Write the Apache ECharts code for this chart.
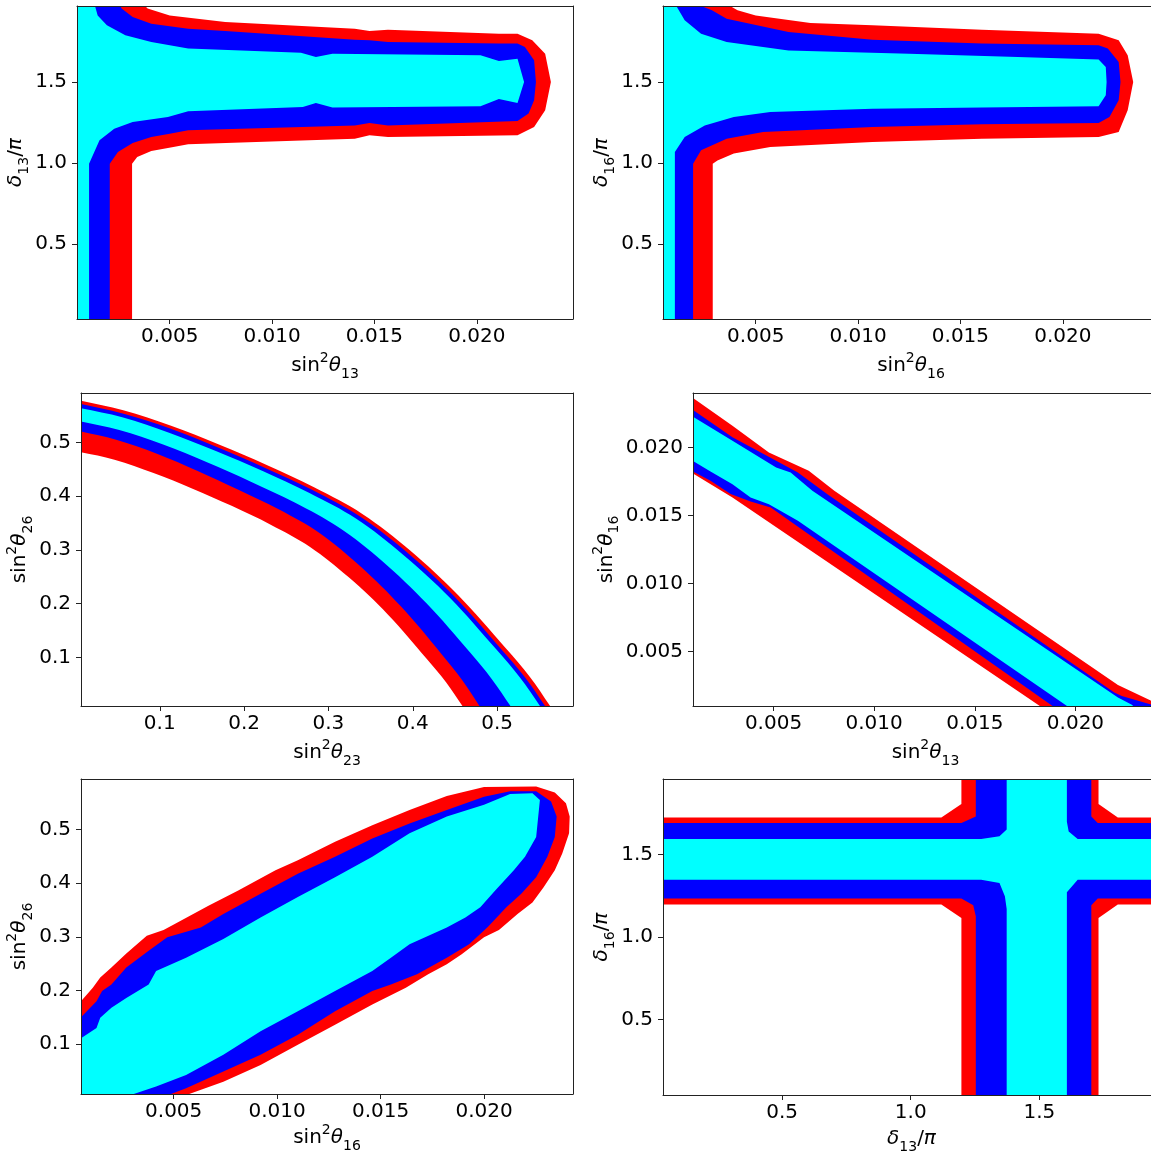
<!DOCTYPE html>
<html lang="en">
<head>
<meta charset="UTF-8">
<title>contours</title>
<style>
  * { margin: 0; padding: 0; }
  body { background: #fff; }
  #main { width: 1151px; height: 1151px; }
</style>
</head>
<body>
<div id="main"></div>
<script src="https://cdn.jsdelivr.net/npm/echarts@6/dist/echarts.min.js"></script>
<script>
// tick values
var smallTicks = [0.005, 0.010, 0.015, 0.020];
var mixTicks = [0.1, 0.2, 0.3, 0.4, 0.5];
var phaseTicks = [0.5, 1.0, 1.5];

// panel 1: sin^2 theta13 vs delta13/pi  (outline of each filled region)
var p1Red = [[0, 0], [0.00316, 0], [0.00316, 0.996], [0.00341, 1.037], [0.0041, 1.074], [0.00518, 1.099], [0.0059, 1.115], [0.01404, 1.150], [0.01476, 1.171], [0.01566, 1.160], [0.02199, 1.171], [0.0228, 1.222], [0.02334, 1.325], [0.02362, 1.5], [0.02334, 1.675], [0.02271, 1.757], [0.02199, 1.798], [0.02108, 1.798], [0.01566, 1.823], [0.01476, 1.815], [0.01404, 1.829], [0.00771, 1.870], [0.005, 1.911], [0.00392, 1.953], [0.00355, 2], [0, 2]];
var p1Blue = [[0, 0], [0.00207, 0], [0.00207, 0.996], [0.00247, 1.068], [0.00319, 1.123], [0.0041, 1.160], [0.005, 1.181], [0.0059, 1.202], [0.01404, 1.232], [0.01476, 1.247], [0.01566, 1.232], [0.02199, 1.259], [0.02253, 1.305], [0.0228, 1.387], [0.02289, 1.5], [0.0228, 1.634], [0.02235, 1.716], [0.02199, 1.737], [0.02108, 1.737], [0.01566, 1.747], [0.01476, 1.757], [0.01404, 1.761], [0.00771, 1.815], [0.0059, 1.829], [0.0041, 1.86], [0.00319, 1.901], [0.00265, 1.953], [0.00247, 2], [0, 2]];
var p1Cyan = [[0, 0], [0.00106, 0], [0.00106, 0.996], [0.00157, 1.140], [0.00229, 1.212], [0.00319, 1.253], [0.00491, 1.284], [0.0059, 1.319], [0.0115, 1.346], [0.01214, 1.370], [0.01295, 1.342], [0.02018, 1.350], [0.02108, 1.395], [0.02199, 1.370], [0.02231, 1.5], [0.02199, 1.644], [0.02108, 1.630], [0.02018, 1.665], [0.01295, 1.675], [0.01214, 1.654], [0.01141, 1.681], [0.0059, 1.706], [0.0041, 1.747], [0.00283, 1.788], [0.00193, 1.850], [0.00148, 1.911], [0.00135, 1.969], [0.00135, 2], [0, 2]];

// panel 2: sin^2 theta16 vs delta16/pi
var p2Red = [[0, 0], [0.0029, 0], [0.0029, 0.996], [0.00313, 1.016], [0.00393, 1.058], [0.00571, 1.099], [0.0107, 1.130], [0.01605, 1.150], [0.02175, 1.160], [0.02273, 1.191], [0.02317, 1.325], [0.02344, 1.5], [0.02317, 1.665], [0.02273, 1.757], [0.02175, 1.798], [0.01605, 1.823], [0.0107, 1.850], [0.00767, 1.864], [0.005, 1.911], [0.00411, 1.942], [0.00375, 1.969], [0.00375, 2], [0, 2]];
var p2Blue = [[0, 0], [0.00194, 0], [0.00194, 0.996], [0.00233, 1.078], [0.00358, 1.150], [0.00536, 1.191], [0.0107, 1.222], [0.01605, 1.239], [0.02175, 1.247], [0.02228, 1.284], [0.02273, 1.387], [0.02282, 1.5], [0.02273, 1.623], [0.0222, 1.706], [0.02175, 1.726], [0.01605, 1.737], [0.0107, 1.761], [0.0066, 1.809], [0.00358, 1.891], [0.00286, 1.942], [0.00233, 1.969], [0.00233, 2], [0, 2]];
var p2Cyan = [[0, 0], [0.00105, 0], [0.00105, 1.068], [0.00153, 1.160], [0.00251, 1.232], [0.00393, 1.284], [0.00571, 1.315], [0.0107, 1.335], [0.01605, 1.342], [0.02175, 1.350], [0.0221, 1.418], [0.02214, 1.5], [0.0221, 1.593], [0.02175, 1.638], [0.0178, 1.654], [0.01248, 1.675], [0.0066, 1.695], [0.00358, 1.747], [0.00233, 1.798], [0.00153, 1.881], [0.00112, 1.969], [0.00112, 2], [0, 2]];

// panel 3: sin^2 theta23 vs sin^2 theta26 (upper and lower edge of each band)
var p3RedTop = [[-0.05, 0.597], [0, 0.58], [0.0567, 0.560], [0.1134, 0.531], [0.1701, 0.496], [0.2268, 0.458], [0.2835, 0.416], [0.3402, 0.367], [0.3969, 0.299], [0.4536, 0.216], [0.5103, 0.117], [0.5387, 0.064], [0.567, 0], [0.597, -0.068]];
var p3BlueTop = [[-0.05, 0.591], [0, 0.574], [0.0561, 0.554], [0.1122, 0.526], [0.1683, 0.491], [0.2244, 0.453], [0.2805, 0.412], [0.3366, 0.363], [0.3927, 0.296], [0.4488, 0.214], [0.5049, 0.115], [0.533, 0.063], [0.561, 0], [0.591, -0.068]];
var p3CyanTop = [[-0.05, 0.583], [0, 0.566], [0.0555, 0.547], [0.111, 0.518], [0.1665, 0.484], [0.222, 0.447], [0.2775, 0.406], [0.333, 0.358], [0.3885, 0.291], [0.444, 0.211], [0.4995, 0.114], [0.5273, 0.062], [0.555, 0], [0.585, -0.068]];
var p3CyanBottom = [[-0.05, 0.558], [0, 0.541], [0.052, 0.523], [0.104, 0.496], [0.156, 0.463], [0.208, 0.427], [0.26, 0.388], [0.312, 0.342], [0.364, 0.279], [0.416, 0.201], [0.468, 0.109], [0.494, 0.059], [0.52, 0], [0.55, -0.068]];
var p3BlueBottom = [[-0.05, 0.540], [0, 0.5225], [0.0483, 0.505], [0.0966, 0.479], [0.1449, 0.447], [0.1932, 0.412], [0.2415, 0.375], [0.2898, 0.331], [0.3381, 0.269], [0.3864, 0.194], [0.4347, 0.105], [0.4589, 0.057], [0.483, 0], [0.512, -0.068]];
var p3RedBottom = [[-0.05, 0.5015], [0, 0.484], [0.0463, 0.468], [0.0926, 0.443], [0.1389, 0.414], [0.1852, 0.382], [0.2315, 0.347], [0.2778, 0.306], [0.3241, 0.249], [0.3704, 0.180], [0.4167, 0.097], [0.4399, 0.053], [0.463, 0], [0.493, -0.068]];

// panel 4: sin^2 theta13 vs sin^2 theta16
var p4RedTop = [[0.0009, 0.02373], [0.00296, 0.02159], [0.00477, 0.01963], [0.00675, 0.01828], [0.00802, 0.01681], [0.02211, 0.00255], [0.02371, 0.00142], [0.0257, 0]];
var p4BlueTop = [[0.0009, 0.02285], [0.00296, 0.02074], [0.00513, 0.01902], [0.00621, 0.01816], [0.00766, 0.01657], [0.02193, 0.00199], [0.0223, 0.00174], [0.02371, 0.00113], [0.0263, 0]];
var p4CyanTop = [[0.0009, 0.02235], [0.00296, 0.02049], [0.00513, 0.01853], [0.00585, 0.01816], [0.00693, 0.01681], [0.02211, 0.00162], [0.0228, 0.0011], [0.0232, 0.0005], [0.0236, 0]];
var p4CyanBottom = [[0.0009, 0.0191], [0.00187, 0.01824], [0.00296, 0.0173], [0.00386, 0.01632], [0.00477, 0.01583], [0.00549, 0.01522], [0.00621, 0.01461], [0.01958, 0.001], [0.0197, 0]];
var p4BlueBottom = [[0.0009, 0.01831], [0.00187, 0.01755], [0.00287, 0.01657], [0.00386, 0.01603], [0.00486, 0.01559], [0.01886, 0.001], [0.0190, 0]];
var p4RedBottom = [[0.0009, 0.01818], [0.00296, 0.01632], [0.01823, 0.001], [0.0183, 0]];

// panel 5: sin^2 theta16 vs sin^2 theta26
var p5Red = [[0, 0], [0, 0.183], [0.00052, 0.18], [0.00109, 0.205], [0.00145, 0.224], [0.00199, 0.2425], [0.00271, 0.269], [0.0037, 0.302], [0.00451, 0.3125], [0.00505, 0.324], [0.00668, 0.358], [0.00812, 0.386], [0.00992, 0.424], [0.011, 0.4425], [0.0128, 0.477], [0.0146, 0.508], [0.0164, 0.536], [0.0182, 0.5625], [0.02, 0.579], [0.02252, 0.58], [0.02342, 0.569], [0.02396, 0.549], [0.02414, 0.524], [0.02411, 0.493], [0.02378, 0.455], [0.02342, 0.424], [0.02288, 0.3925], [0.02234, 0.364], [0.02162, 0.3425], [0.02072, 0.3125], [0.02, 0.299], [0.01892, 0.2675], [0.0182, 0.249], [0.0173, 0.23], [0.01622, 0.205], [0.0146, 0.174], [0.0128, 0.136], [0.011, 0.099], [0.0092, 0.061], [0.0074, 0.03], [0.00595, 0.01], [0.0053, 0]];
var p5Blue = [[0, 0], [0, 0.153], [0.00052, 0.15], [0.00127, 0.18], [0.00154, 0.199], [0.00199, 0.211], [0.00271, 0.2425], [0.00379, 0.274], [0.00469, 0.299], [0.00631, 0.3175], [0.0074, 0.3425], [0.0092, 0.38], [0.011, 0.4175], [0.0128, 0.449], [0.0146, 0.483], [0.0164, 0.511], [0.0182, 0.536], [0.02, 0.561], [0.02126, 0.571], [0.02252, 0.571], [0.02324, 0.552], [0.02351, 0.524], [0.02342, 0.486], [0.02306, 0.449], [0.02252, 0.411], [0.0218, 0.38], [0.02108, 0.355], [0.02018, 0.318], [0.01928, 0.286], [0.0182, 0.261], [0.01676, 0.23], [0.0155, 0.211], [0.0146, 0.199], [0.0128, 0.161], [0.011, 0.1175], [0.0092, 0.08], [0.0074, 0.049], [0.0056, 0.0175], [0.00487, 0.007], [0.0046, 0]];
var p5Cyan = [[0, 0], [0, 0.113], [0.00052, 0.111], [0.00127, 0.13], [0.00145, 0.149], [0.00199, 0.1675], [0.00271, 0.186], [0.00379, 0.211], [0.00415, 0.236], [0.0056, 0.261], [0.0074, 0.296], [0.0092, 0.336], [0.011, 0.374], [0.0128, 0.411], [0.0146, 0.449], [0.0164, 0.493], [0.0182, 0.524], [0.02, 0.546], [0.02126, 0.566], [0.02234, 0.5675], [0.0227, 0.555], [0.02252, 0.486], [0.02198, 0.449], [0.02144, 0.424], [0.02054, 0.386], [0.01982, 0.355], [0.0191, 0.336], [0.0182, 0.3175], [0.0164, 0.286], [0.0155, 0.261], [0.0146, 0.236], [0.0137, 0.2175], [0.0128, 0.199], [0.011, 0.161], [0.0092, 0.124], [0.0074, 0.08], [0.0056, 0.0425], [0.00415, 0.021], [0.00307, 0.007], [0.0029, 0]];

// panel 6: delta13/pi vs delta16/pi
var p6Red = [[1.197, 2], [1.197, 1.807], [1.119, 1.726], [0, 1.726], [0, 1.197], [1.119, 1.197], [1.197, 1.116], [1.197, 0], [1.730, 0], [1.730, 1.116], [1.805, 1.197], [2, 1.197], [2, 1.726], [1.805, 1.726], [1.730, 1.807], [1.730, 2]];
var p6Blue = [[1.253, 2], [1.253, 1.732], [1.197, 1.692], [0, 1.692], [0, 1.233], [1.197, 1.233], [1.243, 1.193], [1.253, 1.126], [1.253, 0], [1.702, 0], [1.702, 1.193], [1.727, 1.233], [2, 1.233], [2, 1.692], [1.727, 1.692], [1.702, 1.732], [1.702, 2]];
var p6Cyan = [[1.373, 2], [1.373, 1.652], [1.345, 1.611], [1.274, 1.595], [0, 1.595], [0, 1.348], [1.274, 1.348], [1.345, 1.328], [1.366, 1.247], [1.373, 1.17], [1.373, 0], [1.607, 0], [1.607, 1.272], [1.649, 1.348], [2, 1.348], [2, 1.595], [1.649, 1.595], [1.614, 1.641], [1.607, 1.7], [1.607, 2]];

var colors = ['#ff0000', '#0000ff', '#00ffff'];
var font = 'DejaVu Sans';

function band(top, bottom) {
    return top.concat(bottom.slice().reverse());
}
function sinName(ij) {
    return '{n|sin}{sup|2}{i|θ}{sub|' + ij + '}';
}
function deltaName(ij) {
    return '{i|δ}{sub|' + ij + '}{n|/}{i|π}';
}

var rich = {
    n: { fontFamily: font, fontSize: 20, lineHeight: 30, color: '#000' },
    i: { fontFamily: font, fontSize: 20, lineHeight: 30, fontStyle: 'italic', color: '#000' },
    sup: { fontFamily: font, fontSize: 14, lineHeight: 22, verticalAlign: 'top', color: '#000' },
    sub: { fontFamily: font, fontSize: 14, lineHeight: 22, verticalAlign: 'bottom', color: '#000' }
};

var panels = [
    { box: [77, 6, 496, 313], smooth: 0,
      x: { min: 0.00047, max: 0.0247, ticks: smallTicks, dp: 3, name: sinName('13'), gap: 47 },
      y: { min: 0.037, max: 1.969, ticks: phaseTicks, dp: 1, name: deltaName('13'), gap: 58 },
      regions: [p1Red, p1Blue, p1Cyan] },
    { box: [663, 6, 496, 313], smooth: 0,
      x: { min: 0.00047, max: 0.0247, ticks: smallTicks, dp: 3, name: sinName('16'), gap: 47 },
      y: { min: 0.037, max: 1.969, ticks: phaseTicks, dp: 1, name: deltaName('16'), gap: 57 },
      regions: [p2Red, p2Blue, p2Cyan] },
    { box: [81, 393, 492, 313], smooth: 0.35,
      x: { min: 0.0066, max: 0.59, ticks: mixTicks, dp: 1, name: sinName('23'), gap: 47 },
      y: { min: 0.0095, max: 0.592, ticks: mixTicks, dp: 1, name: sinName('26'), gap: 61 },
      regions: [band(p3RedTop, p3RedBottom), band(p3BlueTop, p3BlueBottom), band(p3CyanTop, p3CyanBottom)] },
    { box: [693, 393, 465, 313], smooth: 0,
      x: { min: 0.001, max: 0.0241, ticks: smallTicks, dp: 3, name: sinName('13'), gap: 47 },
      y: { min: 0.001, max: 0.024, ticks: smallTicks, dp: 3, name: sinName('16'), gap: 80 },
      regions: [band(p4RedTop, p4RedBottom), band(p4BlueTop, p4BlueBottom), band(p4CyanTop, p4CyanBottom)] },
    { box: [81, 779, 492, 315], smooth: 0,
      x: { min: 0.00052, max: 0.0243, ticks: smallTicks, dp: 3, name: sinName('16'), gap: 44 },
      y: { min: 0.007, max: 0.594, ticks: mixTicks, dp: 1, name: sinName('26'), gap: 61 },
      regions: [p5Red, p5Blue, p5Cyan] },
    { box: [663, 779, 497, 316], smooth: 0,
      x: { min: 0.037, max: 1.969, ticks: phaseTicks, dp: 1, name: deltaName('13'), gap: 44 },
      y: { min: 0.041, max: 1.959, ticks: phaseTicks, dp: 1, name: deltaName('16'), gap: 59 },
      regions: [p6Red, p6Blue, p6Cyan] }
];

function mainAxis(k, a, pos) {
    return {
        type: 'value', gridIndex: k, position: pos, min: a.min, max: a.max, z: 10,
        name: a.name, nameLocation: 'middle', nameGap: a.gap,
        nameTextStyle: { verticalAlign: 'middle', rich: rich },
        axisLine: { show: true, onZero: false, lineStyle: { color: '#222', width: 1 } },
        axisTick: { show: true, length: 5, customValues: a.ticks, lineStyle: { color: '#222', width: 1 } },
        axisLabel: {
            customValues: a.ticks, margin: pos === 'bottom' ? 8 : 10,
            fontFamily: font, fontSize: 20, color: '#000',
            formatter: function (v) { return v.toFixed(a.dp); }
        },
        splitLine: { show: false }
    };
}
function frameAxis(k, a, pos) {
    return {
        type: 'value', gridIndex: k, position: pos, min: a.min, max: a.max, z: 10,
        axisLine: { show: true, onZero: false, lineStyle: { color: '#222', width: 1 } },
        axisTick: { show: false }, axisLabel: { show: false }, splitLine: { show: false }
    };
}
function polygonRender(points, color, smooth) {
    return function (params, api) {
        if (params.context.rendered) return;
        params.context.rendered = true;
        var pts = points.map(function (p) { return api.coord(p); });
        return { type: 'polygon', shape: { points: pts, smooth: smooth }, style: { fill: color, stroke: null } };
    };
}

var grid = [], xAxis = [], yAxis = [], series = [];
panels.forEach(function (p, k) {
    grid.push({ left: p.box[0], top: p.box[1], width: p.box[2], height: p.box[3],
                containLabel: false, outerBoundsMode: 'none', show: false });
    xAxis.push(mainAxis(k, p.x, 'bottom'));
    yAxis.push(mainAxis(k, p.y, 'left'));
    p.regions.forEach(function (poly, c) {
        series.push({
            type: 'custom', coordinateSystem: 'cartesian2d', xAxisIndex: k, yAxisIndex: k,
            data: poly, clip: true, silent: true, z: 2 + c,
            renderItem: polygonRender(poly, colors[c], p.smooth)
        });
    });
});
panels.forEach(function (p, k) {
    xAxis.push(frameAxis(k, p.x, 'top'));
    yAxis.push(frameAxis(k, p.y, 'right'));
});

var chart = echarts.init(document.getElementById('main'), null, { renderer: 'canvas' });
chart.setOption({
    animation: false,
    backgroundColor: '#fff',
    grid: grid,
    xAxis: xAxis,
    yAxis: yAxis,
    series: series
});
</script>
</body>
</html>
